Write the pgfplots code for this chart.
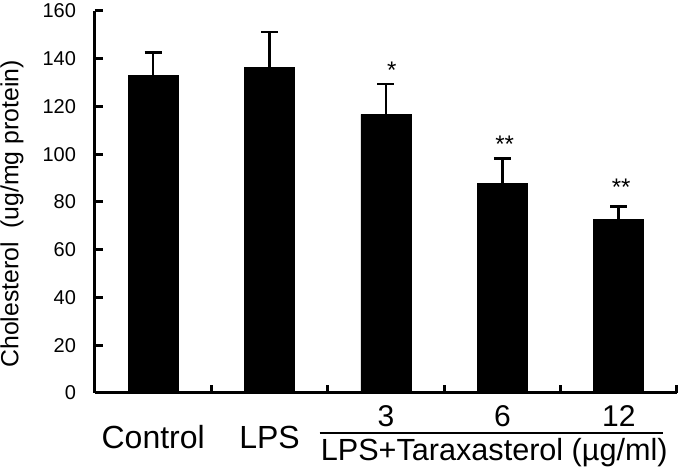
\documentclass[border=0pt]{standalone}
\usepackage{pgfplots}
\pgfplotsset{compat=1.18}
\usepackage{fontspec}
\setmainfont{Liberation Sans}

\begin{document}
\begin{tikzpicture}
\begin{axis}[
    name=ax,
    scale only axis,
    width=291pt,
    height=191pt,
    ybar,
    bar width=25pt,
    xmin=-0.5, xmax=4.5,
    ymin=0, ymax=160,
    ytick={0,20,...,160},
    xtick={0.5,1.5,2.5,3.5,4.5},
    xticklabels={},
    axis lines=left,
    axis line style={-, line width=1.5pt},
    tick align=inside,
    major tick length=4pt,
    tick style={line width=1.5pt, black},
    /pgf/number format/assume math mode=true,
    every y tick label/.append style={font=\fontsize{10}{12}\selectfont},
    yticklabel style={xshift=-6pt},
    clip=false,
]
\addplot[fill=black, draw=black,
    error bars/.cd, y dir=plus, y explicit,
    error bar style={line width=1.3pt, black},
    error mark options={rotate=90, mark size=4.25pt, line width=1.3pt, black}]
coordinates {
    (0,132.9) +- (0,9.6)
    (1,136.3) +- (0,14.9)
    (2,116.7) +- (0,12.7)
    (3,87.6)  +- (0,10.6)
    (4,72.8)  +- (0,5.4)
};
% significance marks
\node[font=\fontsize{12}{12}\selectfont] at (axis cs:2.05,135) {*};
\node[font=\fontsize{12}{12}\selectfont] at (axis cs:3.02,104) {**};
\node[font=\fontsize{12}{12}\selectfont] at (axis cs:4.02,86) {**};
% category labels
\node[font=\fontsize{16}{16}\selectfont] at ([yshift=-22pt]axis cs:0,0) {Control};
\node[font=\fontsize{16}{16}\selectfont] at ([yshift=-22pt]axis cs:1,0) {LPS};
\node[font=\fontsize{15}{15}\selectfont] at ([yshift=-11.5pt]axis cs:2,0) {3};
\node[font=\fontsize{15}{15}\selectfont] at ([yshift=-11.5pt]axis cs:3,0) {6};
\node[font=\fontsize{15}{15}\selectfont] at ([yshift=-11.5pt]axis cs:4,0) {12};
\draw[line width=0.6pt] ([yshift=-20pt]axis cs:1.43,0) -- ([yshift=-20pt]axis cs:4.38,0);
\node[font=\fontsize{15.3}{15.3}\selectfont] at ([yshift=-30pt]axis cs:2.93,0) {LPS+Taraxasterol (µg/ml)};
\node[font=\fontsize{12.4}{13}\selectfont, rotate=90] at ([xshift=-41.5pt]axis cs:-0.5,75) {Cholesterol\ \ (ug/mg protein)};
\end{axis}
\pgfresetboundingbox
\path ([xshift=-47.5pt,yshift=-41pt]ax.south west) rectangle ([xshift=6pt,yshift=5.5pt]ax.north east);
\end{tikzpicture}
\end{document}
